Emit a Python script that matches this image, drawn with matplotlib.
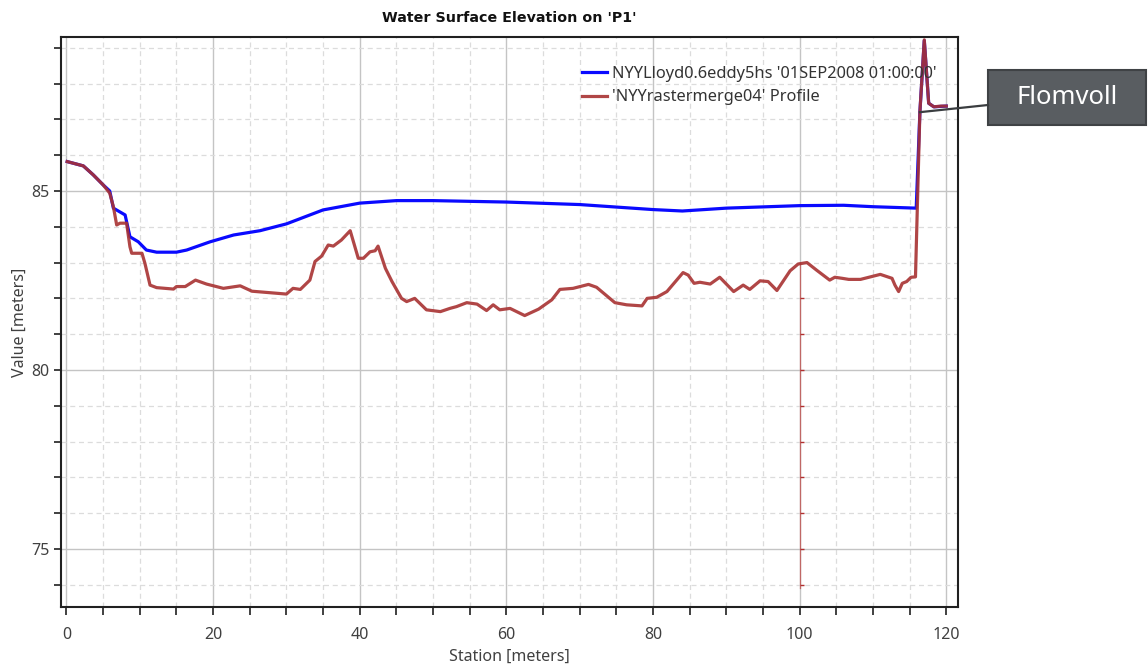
import numpy as np
import matplotlib
matplotlib.use("Agg")
import matplotlib.pyplot as plt
from matplotlib.ticker import MultipleLocator
from matplotlib.patches import Rectangle
from matplotlib.lines import Line2D

plt.rcParams['font.family'] = ['Noto Sans', 'DejaVu Sans']

# water surface (blue)
wsX = [0.1, 2.3, 3.65, 5.0, 5.9, 6.4, 8.0, 8.66, 9.8, 10.9, 12.3, 15.0, 16.4, 19.6, 22.8,
       26.4, 30.0, 35.0, 40.0, 45.0, 50.0, 60.0, 70.0, 80.0, 84.0, 90.0, 100.0, 106.0,
       110.0, 115.9, 116.4, 117.0, 117.6, 118.3, 120.0]
wsY = [85.82, 85.70, 85.45, 85.17, 85.0, 84.52, 84.33, 83.72, 83.58, 83.35, 83.29, 83.29,
       83.35, 83.58, 83.77, 83.89, 84.08, 84.47, 84.66, 84.73, 84.73, 84.69, 84.62, 84.48,
       84.44, 84.52, 84.59, 84.60, 84.56, 84.52, 87.2, 89.2, 87.45, 87.35, 87.37]

# terrain profile (red)
profX = [0.1, 2.3, 3.65, 5.0, 5.9, 6.4, 6.85, 7.3, 8.2, 8.66, 8.9, 10.3, 10.7, 11.4, 12.3,
         14.6, 15.0, 16.2, 17.6, 19.1, 21.4, 23.7, 25.3, 30.0, 30.9, 31.9, 33.2, 33.9, 34.8,
         35.7, 36.4, 37.5, 38.7, 39.8, 40.5, 41.4, 42.1, 42.5, 43.5, 44.4, 45.7, 46.4, 47.5,
         49.1, 51.0, 52.3, 53.2, 54.6, 56.0, 57.3, 58.2, 59.1, 60.5, 62.5, 64.4, 66.2, 67.3,
         69.1, 71.2, 72.3, 74.8, 76.4, 78.5, 79.2, 80.5, 81.9, 84.1, 84.8, 85.6, 86.4, 87.8,
         89.1, 91.0, 92.3, 93.2, 94.6, 95.7, 96.9, 98.7, 99.8, 101.0, 102.3, 104.1, 104.8,
         105.8, 106.7, 108.3, 111.0, 112.6, 113.0, 113.5, 114.0, 114.6, 115.2, 115.8, 116.4,
         117.0, 117.6, 118.3, 119.3, 120.0]
profY = [85.82, 85.70, 85.45, 85.17, 84.94, 84.56, 84.05, 84.10, 84.10, 83.44, 83.26, 83.26,
         82.98, 82.37, 82.30, 82.26, 82.33, 82.33, 82.51, 82.40, 82.28, 82.35, 82.20, 82.12,
         82.28, 82.25, 82.51, 83.03, 83.18, 83.49, 83.46, 83.63, 83.89, 83.12, 83.12, 83.30,
         83.33, 83.46, 82.84, 82.47, 82.00, 81.91, 82.00, 81.68, 81.63, 81.72, 81.77, 81.88,
         81.84, 81.66, 81.82, 81.68, 81.72, 81.52, 81.70, 81.96, 82.25, 82.28, 82.39, 82.31,
         81.88, 81.82, 81.79, 82.00, 82.03, 82.19, 82.72, 82.65, 82.42, 82.45, 82.40, 82.59,
         82.19, 82.37, 82.25, 82.49, 82.47, 82.22, 82.77, 82.96, 83.00, 82.79, 82.51, 82.59,
         82.56, 82.53, 82.53, 82.67, 82.56, 82.37, 82.19, 82.42, 82.47, 82.59, 82.60, 87.2,
         89.22, 87.45, 87.35, 87.37, 87.37]

# thin vertical marker line at station 100
markX = [100, 100]
markY = [83.0, 73.9]
markTicks = [74, 75, 76, 77, 78, 79, 80, 81, 82]

# callout
calloutText = "Flomvoll"
calloutPoint = (116.4, 87.2)

fig = plt.figure(figsize=(11.48, 6.70), dpi=100)
ax = fig.add_axes([0.0531, 0.094, 0.7814, 0.8508])

ax.plot(markX, markY, color="#c0504d", linewidth=0.9, alpha=0.8)
ax.plot([100] * len(markTicks), markTicks, linestyle="none", marker=1,
        markersize=3, color="#b03030")
ax.plot(wsX, wsY, color="#0a0aff", linewidth=2.3,
        label="NYYLloyd0.6eddy5hs '01SEP2008 01:00:00'")
ax.plot(profX, profY, color="#a83232", linewidth=2.3, alpha=0.9,
        label="'NYYrastermerge04' Profile")

ax.set_xlim(-0.75, 121.6)
ax.set_ylim(73.38, 89.3)
ax.xaxis.set_major_locator(MultipleLocator(20))
ax.xaxis.set_minor_locator(MultipleLocator(5))
ax.yaxis.set_major_locator(MultipleLocator(5))
ax.yaxis.set_minor_locator(MultipleLocator(1))
ax.grid(which="major", color="#c4c4c4", linewidth=1.0, linestyle="-")
ax.grid(which="minor", color="#dcdcdc", linewidth=0.9, linestyle=(0, (4, 3)))
ax.set_axisbelow(True)
ax.tick_params(which="both", direction="out", length=5, width=1.2, color="#202020",
               labelsize=11.5, labelcolor="#404040")
ax.tick_params(axis="x", which="both", length=6, pad=8.5)
for sp in ax.spines.values():
    sp.set_color("#202020")
    sp.set_linewidth(1.5)

ax.set_title("Water Surface Elevation on 'P1'", fontsize=10.3, fontweight="bold",
             family="DejaVu Sans", color="#111111", pad=11)
ax.set_xlabel("Station [meters]", fontsize=11.5, color="#404040", labelpad=4)
ax.set_ylabel("Value [meters]", fontsize=11.5, color="#404040", labelpad=2)

ax.legend(loc="upper right", bbox_to_anchor=(0.993, 0.975), frameon=False,
          fontsize=11.8, handlelength=1.5, handletextpad=0.35, labelspacing=0.45,
          labelcolor="#333333")

# callout box in figure pixels (988..1146 wide, 545..600 tall)
boxL, boxB, boxW, boxH = 988, 545, 158, 55
fig.patches.append(Rectangle((boxL / 1148, boxB / 670), boxW / 1148, boxH / 670,
                             transform=fig.transFigure, facecolor="#595d61",
                             edgecolor="#3f4245", linewidth=1.5))
fig.text((boxL + boxW / 2) / 1148, (boxB + boxH / 2) / 670, calloutText,
         fontsize=18.5, color="white", ha="center", va="center")
px, py = ax.transData.transform(calloutPoint)
fig.lines.append(Line2D([px / 1148, boxL / 1148], [py / 670, 565 / 670],
                        transform=fig.transFigure, color="#3a3d40", linewidth=1.6))

fig.savefig("out.png", dpi=100)
